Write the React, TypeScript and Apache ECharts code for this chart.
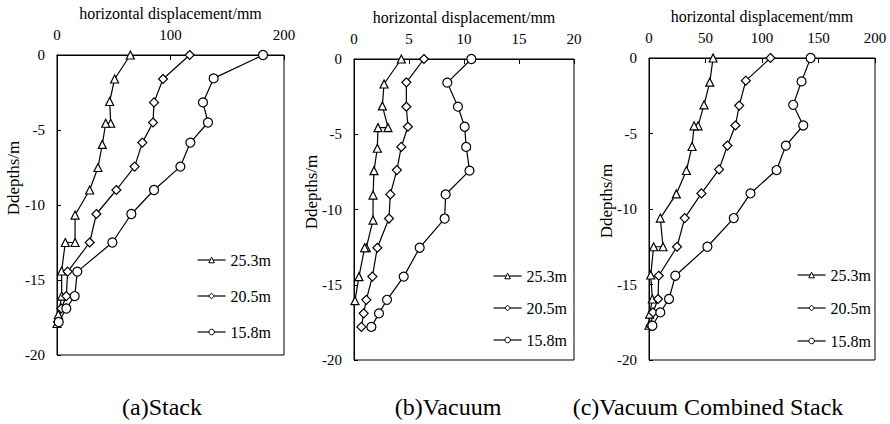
import React, { useEffect, useRef } from "react";
import * as echarts from "echarts";

// ---- Data (depth in m, horizontal displacement in mm) ----
const seriesNames = ["25.3m", "20.5m", "15.8m"];
const panelCaptions = ["(a)Stack", "(b)Vacuum", "(c)Vacuum Combined Stack"];
const xAxisMax = [200, 20, 200];
const xAxisInterval = [100, 5, 50];

// Panel (a) Stack
const stackTriDepth = [0, -1.6, -3.1, -4.55, -4.55, -5.96, -7.5, -9.0, -10.67, -12.5, -12.5, -14.4, -16.07, -17.3, -17.9];
const stackTriValue = [64.6, 50.8, 46.4, 47.3, 42.9, 39.9, 36.1, 28.8, 15.9, 15.9, 7.3, 4.1, 4.1, 1.2, 0];
const stackDiaDepth = [0, -1.6, -3.16, -4.5, -5.84, -7.44, -9.0, -10.6, -12.5, -14.44, -16.07, -16.9, -17.8];
const stackDiaValue = [116.9, 93.4, 85.5, 84.6, 75.2, 68.4, 52.3, 34.7, 28.8, 9.4, 8.2, 3.8, 0.9];
const stackCirDepth = [0, -1.56, -3.16, -4.5, -5.84, -7.44, -9.0, -10.6, -12.5, -14.44, -16.07, -16.9, -17.8];
const stackCirValue = [181.5, 138, 128.6, 133, 117.5, 108.7, 85.5, 65.5, 48.8, 17.9, 15.6, 8.2, 1.5];

// Panel (b) Vacuum
const vacTriDepth = [0, -1.66, -3.12, -4.56, -4.56, -5.93, -7.42, -9.04, -10.7, -12.54, -12.54, -14.46, -16.06];
const vacTriValue = [4.3, 2.73, 2.58, 3.09, 2.18, 2.12, 1.82, 1.73, 1.73, 1.12, 0.97, 0.45, 0.09];
const vacDiaDepth = [0, -1.55, -3.17, -4.5, -5.84, -7.38, -9.0, -10.6, -12.54, -14.46, -16.0, -16.9, -17.8];
const vacDiaValue = [6.36, 4.76, 4.76, 4.9, 4.3, 3.9, 3.3, 3.18, 2.12, 1.67, 1.12, 0.88, 0.67];
const vacCirDepth = [0, -1.57, -3.17, -4.5, -5.84, -7.42, -9.0, -10.6, -12.54, -14.46, -16.0, -16.9, -17.8];
const vacCirValue = [10.67, 8.48, 9.45, 10.06, 10.2, 10.5, 8.33, 8.24, 5.97, 4.52, 3.0, 2.27, 1.58];

// Panel (c) Vacuum Combined Stack
const combTriDepth = [0, -1.6, -3.1, -4.49, -4.49, -5.86, -7.45, -9.0, -10.6, -12.5, -12.5, -14.37, -15.96, -16.96, -17.7];
const combTriValue = [56.7, 53.8, 48.7, 43.4, 39.9, 38.1, 33.1, 24.2, 10.0, 12.4, 4.1, 1.5, 3.0, 0.6, 0];
const combDiaDepth = [0, -1.5, -3.15, -4.47, -5.8, -7.38, -8.97, -10.6, -12.5, -14.42, -15.96, -16.85, -17.73];
const combDiaValue = [107.5, 85.7, 79.8, 76.5, 69.4, 62, 46.4, 31.6, 24.8, 8.6, 8.0, 3.5, 1.5];
const combCirDepth = [0, -1.55, -3.1, -4.47, -5.8, -7.42, -8.97, -10.6, -12.5, -14.42, -15.96, -16.85, -17.73];
const combCirValue = [143, 135, 127.6, 136.5, 121.1, 112.9, 89.8, 75, 51.7, 23.3, 17.7, 10.0, 3.0];

const panels = [
  [[stackTriValue, stackTriDepth], [stackDiaValue, stackDiaDepth], [stackCirValue, stackCirDepth]],
  [[vacTriValue, vacTriDepth], [vacDiaValue, vacDiaDepth], [vacCirValue, vacCirDepth]],
  [[combTriValue, combTriDepth], [combDiaValue, combDiaDepth], [combCirValue, combCirDepth]],
];

const FONT = "Liberation Serif";

const grids = [
  { left: 57, top: 55, width: 227, height: 300 },
  { left: 354, top: 59, width: 220, height: 301 },
  { left: 649, top: 58, width: 226, height: 302 },
];
const legendPos = [
  { left: 192, top: 247, gap: 20 },
  { left: 488, top: 263, gap: 16 },
  { left: 792, top: 262, gap: 17 },
];
const yNamePos = [
  { x: 13, y: 178 },
  { x: 311, y: 192 },
  { x: 606, y: 201 },
];
const captionPos = [162, 448, 708];
const symbols = ["triangle", "diamond", "circle"];
const symbolSizes = [8, 9, 9];

export default function App() {
  const ref = useRef<HTMLDivElement>(null);

  useEffect(() => {
    document.body.style.margin = "0";
    const chart = echarts.init(ref.current!, undefined, { renderer: "svg" });

    const series: any[] = [];
    panels.forEach((panel, pi) => {
      panel.forEach(([vals, depths], si) => {
        series.push({
          type: "line",
          name: seriesNames[si],
          xAxisIndex: pi,
          yAxisIndex: pi,
          data: vals.map((v, i) => [v, depths[i]]),
          symbol: symbols[si],
          symbolSize: symbolSizes[si],
          showAllSymbol: true,
          clip: false,
          lineStyle: { color: "#000", width: 1.2 },
          itemStyle: { color: "#fff", borderColor: "#000", borderWidth: 1.2 },
        });
      });
    });

    const option: any = {
      animation: false,
      backgroundColor: "#fff",
      grid: grids.map((g) => ({
        ...g,
        show: true,
        borderColor: "#000",
        borderWidth: 1,
        containLabel: false,
        outerBoundsMode: "none",
      })),
      xAxis: grids.map((_, i) => ({
        type: "value",
        gridIndex: i,
        position: "top",
        min: 0,
        max: xAxisMax[i],
        interval: xAxisInterval[i],
        name: "horizontal displacement/mm",
        nameLocation: "middle",
        nameGap: 34,
        nameTextStyle: { fontFamily: FONT, fontSize: 16, color: "#000" },
        axisLine: { show: true, lineStyle: { color: "#000", width: 1 } },
        axisTick: { show: true, inside: true, length: 5, lineStyle: { color: "#000" } },
        axisLabel: { fontFamily: FONT, fontSize: 15, color: "#000", margin: 13 },
        splitLine: { show: false },
      })),
      yAxis: grids.map((_, i) => ({
        type: "value",
        gridIndex: i,
        min: -20,
        max: 0,
        interval: 5,
        axisLine: { show: true, lineStyle: { color: "#000", width: 1 } },
        axisTick: { show: true, inside: true, length: 4, lineStyle: { color: "#000" } },
        axisLabel: { fontFamily: FONT, fontSize: 15, color: "#000", margin: 12 },
        splitLine: { show: false },
      })),
      legend: legendPos.map((l) => ({
        orient: "vertical",
        left: l.left,
        top: l.top,
        itemWidth: 28,
        itemHeight: 7,
        itemGap: l.gap,
        data: seriesNames,
        selectedMode: false,
        itemStyle: { color: "#fff", borderColor: "#000", borderWidth: 1 },
        lineStyle: { color: "#000", width: 1.2 },
        textStyle: { fontFamily: FONT, fontSize: 16, color: "#000", lineHeight: 16 },
      })),
      graphic: [
        ...yNamePos.map((p) => ({
          type: "text",
          x: p.x,
          y: p.y,
          rotation: Math.PI / 2,
          style: {
            text: "Ddepths/m",
            fontFamily: FONT,
            fontSize: 17,
            fill: "#000",
            align: "center",
            verticalAlign: "middle",
          },
        })),
        ...panelCaptions.map((c, i) => ({
          type: "text",
          x: captionPos[i],
          y: 407,
          style: {
            text: c,
            fontFamily: FONT,
            fontSize: 24,
            fill: "#000",
            align: "center",
            verticalAlign: "middle",
          },
        })),
      ],
      series,
    };

    chart.setOption(option);
    return () => chart.dispose();
  }, []);

  return <div ref={ref} style={{ width: 890, height: 424 }} />;
}
